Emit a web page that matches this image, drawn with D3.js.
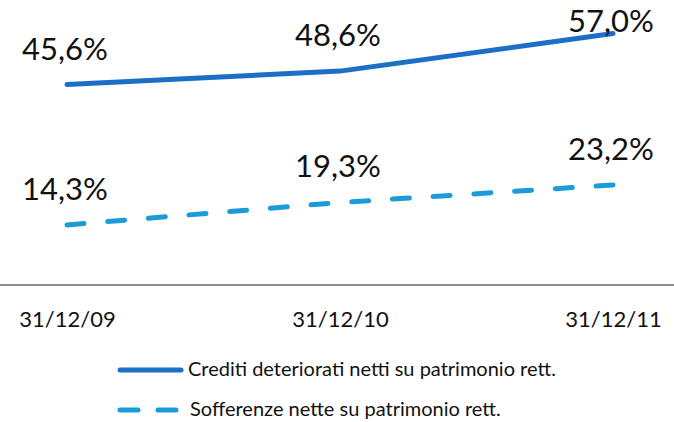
<!DOCTYPE html>
<html>
<head>
<meta charset="utf-8">
<script src="https://cdn.jsdelivr.net/npm/d3@7"></script>
<style>
  body { margin: 0; background: #fff; }
  text { font-family: Lato, "Noto Sans", sans-serif; fill: #111; }
</style>
</head>
<body>
<svg></svg>
<script>
let width = 674, height = 422;

// dati
let categories = ["31/12/09", "31/12/10", "31/12/11"];
let crediti = [45.6, 48.6, 57.0];
let sofferenze = [14.3, 19.3, 23.2];
let seriesNames = ["Crediti deteriorati netti su patrimonio rett.", "Sofferenze nette su patrimonio rett."];
let seriesColors = ["#1c6ec6", "#1b9bd8"];

let svg = d3.select("svg")
  .attr("width", width)
  .attr("height", height);

let x = d3.scalePoint()
  .domain(categories)
  .range([67, 613]);

let y = d3.scaleLinear()
  .domain([0, 60])
  .range([289, 20]);

let fmt = v => d3.format(".1f")(v).replace(".", ",") + "%";

// asse x
let xAxis = svg.append("g")
  .attr("transform", "translate(0,285)")
  .call(d3.axisBottom(x).tickSize(0).tickPadding(0));
xAxis.select(".domain").remove();
xAxis.append("line")
  .attr("x1", 0).attr("x2", width)
  .attr("stroke", "#8c8c8c").attr("stroke-width", 2);
xAxis.selectAll(".tick text")
  .attr("y", 42).attr("dy", null)
  .style("font-family", "Lato, 'Noto Sans', sans-serif")
  .style("font-size", "22px").style("fill", "#111");

let line = d3.line()
  .x((d, i) => x(categories[i]))
  .y(d => y(d));

let series = [crediti, sofferenze];
series.forEach(function(s, k) {
  let p = svg.append("path")
    .datum(s)
    .attr("d", line)
    .attr("fill", "none")
    .attr("stroke", seriesColors[k])
    .attr("stroke-width", 5)
    .attr("stroke-linecap", "round");
  if (k == 1) {
    // tratteggio che finisce con un trattino sull'ultimo punto
    let len = p.node().getTotalLength();
    let dash = 17, n = Math.round((len - dash) / 40);
    p.attr("stroke-dasharray", dash + "," + ((len - dash) / n - dash));
  }

  // etichette sopra i punti, tenute dentro l'area del grafico
  svg.selectAll(".lbl" + k)
    .data(s)
    .enter().append("text")
    .attr("x", (d, i) => x(categories[i]) - 2)
    .attr("y", d => Math.max(y(d) - 25, 32))
    .attr("text-anchor", "middle")
    .style("font-size", "31px")
    .text(fmt);
});

// legenda
let legend = svg.append("g");
seriesNames.forEach(function(name, k) {
  let ly = 370 + k * 40;
  legend.append("line")
    .attr("x1", 120).attr("x2", k == 1 ? 178 : 181)
    .attr("y1", ly).attr("y2", ly)
    .attr("stroke", seriesColors[k])
    .attr("stroke-width", 5)
    .attr("stroke-linecap", "round")
    .attr("stroke-dasharray", k == 1 ? "18,20" : null);
  legend.append("text")
    .attr("x", k == 1 ? 190 : 188)
    .attr("y", ly + 6)
    .style("font-size", "20px")
    .text(name);
});
</script>
</body>
</html>
